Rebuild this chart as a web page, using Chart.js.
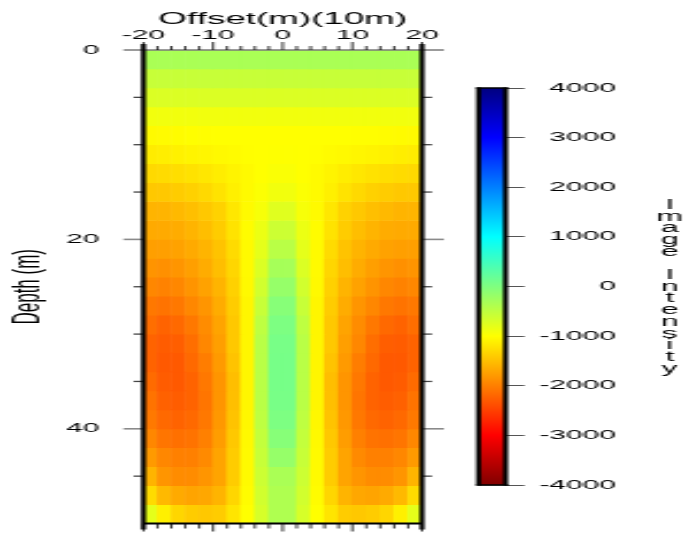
<!DOCTYPE html>
<html>
<head>
<meta charset="utf-8">
<script src="https://cdn.jsdelivr.net/npm/chart.js@4.4.1/dist/chart.umd.min.js"></script>
<style>
html,body{margin:0;padding:0;background:#fff;overflow:hidden;width:689px;height:535px;position:relative;}
canvas{position:absolute;top:0;transform-origin:0 0;}
#main{left:0;}
#cbar{left:440px;}
</style>
</head>
<body>
<canvas id="main" width="300" height="535"></canvas>
<canvas id="cbar" width="109" height="535"></canvas>
<script>
// ---------------- data ----------------
const X_TITLE = 'Offset(m)(10m)';
const Y_TITLE = 'Depth (m)';
const CBAR_TITLE = 'Image Intensity';
const X_TICKS = [-20, -10, 0, 10, 20];
const Y_TICKS = [0, 20, 40];
const CBAR_TICKS = [-4000, -3000, -2000, -1000, 0, 1000, 2000, 3000, 4000];
const CBAR_MIN = -4000, CBAR_MAX = 4000;
const CBAR_STOPS = [4000, 3000, 1000, -1000, -3000, -4000];
const OFFSETS = [-19,-17,-15,-13,-11,-9,-7,-5,-3,-1,1,3,5,7,9,11,13,15,17,19];
const DEPTH_EDGES = [0,2,4,6,8,10,12,14,16,18,20,22,24,26,28,30,32,34,36,38,40,42,44,46,48,50];

const D01 = [-330,-330,-330,-330,-330,-330,-330,-330,-330,-330,-330,-330,-330,-330,-330,-330,-330,-330,-330,-330];
const D03 = [-560,-560,-560,-560,-560,-560,-560,-560,-560,-560,-560,-560,-560,-560,-560,-560,-560,-560,-560,-560];
const D05 = [-720,-720,-720,-720,-720,-720,-720,-720,-720,-720,-720,-720,-720,-720,-720,-720,-720,-720,-720,-720];
const D07 = [-900,-900,-900,-900,-900,-900,-900,-900,-900,-900,-900,-900,-900,-900,-900,-900,-900,-900,-900,-900];
const D09 = [-1040,-1030,-1020,-1010,-1005,-1000,-1000,-1000,-1000,-1000,-1000,-1000,-1000,-1000,-1000,-1005,-1010,-1020,-1030,-1040];
const D11 = [-1150,-1130,-1110,-1090,-1070,-1050,-1030,-1010,-1000,-990,-990,-1000,-1010,-1030,-1050,-1070,-1090,-1110,-1130,-1150];
const D13 = [-1300,-1280,-1260,-1230,-1190,-1140,-1090,-1040,-1000,-960,-960,-1000,-1040,-1090,-1140,-1190,-1230,-1260,-1280,-1300];
const D15 = [-1430,-1430,-1400,-1360,-1300,-1220,-1120,-1040,-980,-900,-900,-980,-1040,-1120,-1220,-1300,-1360,-1400,-1430,-1430];
const D17 = [-1590,-1590,-1550,-1500,-1430,-1350,-1190,-1040,-940,-760,-760,-940,-1040,-1190,-1350,-1430,-1500,-1550,-1590,-1590];
const D19 = [-1670,-1670,-1650,-1590,-1510,-1400,-1220,-1020,-850,-600,-600,-850,-1020,-1220,-1400,-1510,-1590,-1650,-1670,-1670];
const D21 = [-1750,-1750,-1730,-1670,-1590,-1470,-1280,-1040,-800,-450,-450,-800,-1040,-1280,-1470,-1590,-1670,-1730,-1750,-1750];
const D23 = [-1840,-1870,-1830,-1750,-1650,-1510,-1320,-1040,-720,-300,-300,-720,-1040,-1320,-1510,-1650,-1750,-1830,-1870,-1840];
const D25 = [-1940,-1980,-1940,-1840,-1730,-1590,-1360,-1050,-640,-180,-180,-640,-1050,-1360,-1590,-1730,-1840,-1940,-1980,-1940];
const D27 = [-2060,-2100,-2060,-1940,-1830,-1650,-1400,-1070,-560,-60,-60,-560,-1070,-1400,-1650,-1830,-1940,-2060,-2100,-2060];
const D29 = [-2140,-2220,-2180,-2060,-1900,-1710,-1430,-1070,-490,20,20,-490,-1070,-1430,-1710,-1900,-2060,-2180,-2220,-2140];
const D31 = [-2220,-2280,-2260,-2140,-1940,-1750,-1430,-1070,-450,60,60,-450,-1070,-1430,-1750,-1940,-2140,-2260,-2280,-2220];
const D33 = [-2220,-2300,-2300,-2180,-2020,-1790,-1470,-1070,-450,70,70,-450,-1070,-1470,-1790,-2020,-2180,-2300,-2300,-2220];
const D35 = [-2160,-2280,-2300,-2220,-2060,-1830,-1510,-1070,-450,70,70,-450,-1070,-1510,-1830,-2060,-2220,-2300,-2280,-2160];
const D37 = [-2100,-2240,-2270,-2220,-2080,-1830,-1500,-1070,-450,60,60,-450,-1070,-1500,-1830,-2080,-2220,-2270,-2240,-2100];
const D39 = [-2050,-2180,-2220,-2180,-2060,-1810,-1470,-1060,-490,20,20,-490,-1060,-1470,-1810,-2060,-2180,-2220,-2180,-2050];
const D41 = [-1940,-2080,-2120,-2100,-2000,-1770,-1430,-1050,-530,-60,-60,-530,-1050,-1430,-1770,-2000,-2100,-2120,-2080,-1940];
const D43 = [-1790,-1940,-2000,-2000,-1920,-1710,-1400,-1040,-560,-180,-180,-560,-1040,-1400,-1710,-1920,-2000,-2000,-1940,-1790];
const D45 = [-1590,-1830,-1900,-1900,-1830,-1710,-1400,-1040,-600,-330,-330,-600,-1040,-1400,-1710,-1830,-1900,-1900,-1830,-1590];
const D47 = [-1280,-1550,-1670,-1710,-1690,-1590,-1320,-1020,-640,-370,-370,-640,-1020,-1320,-1590,-1690,-1710,-1670,-1550,-1280];
const D49 = [-800,-1120,-1320,-1400,-1430,-1400,-1200,-1000,-680,-370,-370,-680,-1000,-1200,-1400,-1430,-1400,-1320,-1120,-800];
const INTENSITY = [D01,D03,D05,D07,D09,D11,D13,D15,D17,D19,D21,D23,D25,D27,D29,D31,D33,D35,D37,D39,D41,D43,D45,D47,D49];

// ---------------- styling / layout ----------------
const S = 2.3;                       // horizontal stretch of the canvases
const px = v => v / S;               // reference px -> canvas units (horizontal)
const FONT = '"Liberation Sans", Arial, Helvetica, sans-serif';
Chart.defaults.font.family = FONT;
Chart.defaults.color = '#000';

function jet(v) {
  const t = (CBAR_MAX - v) / (CBAR_MAX - CBAR_MIN);
  const c = k => Math.round(255 * Math.max(0, Math.min(1, 1.5 - Math.abs(4 * t - k))));
  return `rgb(${c(3)},${c(2)},${c(1)})`;
}

function line(ctx, x1, y1, x2, y2, color, w) {
  ctx.beginPath();
  ctx.strokeStyle = color;
  ctx.lineWidth = w;
  ctx.moveTo(x1, y1);
  ctx.lineTo(x2, y2);
  ctx.stroke();
}

// ---------------- main image ----------------
const mainCanvas = document.getElementById('main');
mainCanvas.style.transform = `scaleX(${S})`;
const AREA = { left: px(143.5), right: px(422), top: 50, bottom: 523.5 };

const datasets = INTENSITY.map((row, r) => ({
  data: OFFSETS.map(x => ({ x: x, y: [DEPTH_EDGES[r], DEPTH_EDGES[r + 1]] })),
  backgroundColor: row.map(jet),
  borderWidth: 0,
  grouped: false,
  barPercentage: 1,
  categoryPercentage: 1
}));

const framePlugin = {
  id: 'frame',
  afterDraw(chart) {
    const { ctx, chartArea: a, scales: { x, y } } = chart;
    ctx.save();
    line(ctx, a.left - px(20), a.top, a.right + px(22), a.top, '#7a7a7a', 1.6);
    for (let d = 5; d < 50; d += 5) {
      const py = y.getPixelForValue(d);
      if (d % 20 === 0) {
        line(ctx, a.left - px(20), py, a.left, py, '#8a8a8a', 1.6);
        line(ctx, a.right, py, a.right + px(22), py, '#8a8a8a', 1.6);
      } else {
        line(ctx, a.left - px(10), py, a.left, py, '#444', 1.3);
        line(ctx, a.right, py, a.right + px(10), py, '#444', 1.3);
      }
    }
    for (let v = -20; v <= 20; v += 2) {
      const xp = x.getPixelForValue(v);
      const major = v % 10 === 0;
      line(ctx, xp, a.top - (major ? 8 : 4), xp, a.top, '#000', px(1.8));
      line(ctx, xp, a.bottom, xp, a.bottom + (major ? 8 : 5), '#000', px(1.8));
    }
    line(ctx, a.left, a.bottom, a.right, a.bottom, '#000', 1.8);
    line(ctx, a.left, a.top - 6, a.left, a.bottom + 6, '#000', px(5));
    line(ctx, a.right, a.top - 6, a.right, a.bottom + 6, '#000', px(5));
    ctx.restore();
  }
};

new Chart(mainCanvas, {
  type: 'bar',
  data: { datasets: datasets },
  options: {
    responsive: false,
    animation: false,
    devicePixelRatio: 1,
    events: [],
    layout: { padding: { left: 0, top: 0, right: 300 - AREA.right, bottom: 535 - AREA.bottom } },
    plugins: { legend: { display: false }, tooltip: { enabled: false } },
    scales: {
      x: {
        type: 'linear', position: 'top', min: -20, max: 20, offset: false,
        grid: { display: false, drawTicks: true, tickLength: 6.8, offset: false },
        border: { display: false },
        afterBuildTicks: s => { s.ticks = X_TICKS.map(v => ({ value: v })); },
        afterFit: s => { s.height = AREA.top; },
        ticks: { font: { size: 13 }, color: '#000', padding: 0, maxRotation: 0, autoSkip: false, callback: v => String(v) },
        title: { display: true, text: X_TITLE, font: { size: 16 }, color: '#000', padding: { top: 9.5, bottom: 0 } }
      },
      y: {
        type: 'linear', position: 'left', reverse: true, min: 0, max: 50,
        grid: { display: false, drawTicks: true, tickLength: px(144 - 100) },
        border: { display: false },
        afterBuildTicks: s => { s.ticks = Y_TICKS.map(v => ({ value: v })); },
        afterFit: s => { s.width = AREA.left; },
        ticks: { font: { size: 13 }, color: '#000', padding: 0, autoSkip: false, callback: v => String(v) },
        title: { display: true, text: Y_TITLE, font: { size: 17 }, color: '#000', padding: { top: 2, bottom: 0 } }
      }
    }
  },
  plugins: [framePlugin]
});

// ---------------- colour bar ----------------
const cbCanvas = document.getElementById('cbar');
cbCanvas.style.transform = `scaleX(${S})`;
const CB = { left: px(478.5 - 440), right: px(505.5 - 440), top: 88, bottom: 485, labelRight: px(616 - 440), width: 109 };
const TITLE_CHARS = CBAR_TITLE.split('');
const LETTER_TOP = 205, LETTER_STEP = 11.7;
const ytMin = -(LETTER_TOP - CB.top) / LETTER_STEP;
const ytMax = ytMin + (CB.bottom - CB.top) / LETTER_STEP;

const cbFrame = {
  id: 'cbFrame',
  afterDraw(chart) {
    const { ctx, chartArea: a } = chart;
    ctx.save();
    line(ctx, a.left - px(2.5), a.top, a.right + px(2.5), a.top, '#000', 1.5);
    line(ctx, a.left - px(2.5), a.bottom, a.right + px(2.5), a.bottom, '#000', 1.5);
    line(ctx, a.left, a.top - 0.5, a.left, a.bottom + 0.5, '#000', px(5));
    line(ctx, a.right, a.top - 0.5, a.right, a.bottom + 0.5, '#000', px(5));
    ctx.restore();
  }
};

new Chart(cbCanvas, {
  type: 'bar',
  data: {
    labels: [''],
    datasets: [{
      data: [[CBAR_MIN, CBAR_MAX]],
      backgroundColor: (c) => {
        const chart = c.chart;
        if (!chart.chartArea) return '#888';
        const ys = chart.scales.y;
        const g = chart.ctx.createLinearGradient(0, ys.getPixelForValue(CBAR_MAX), 0, ys.getPixelForValue(CBAR_MIN));
        CBAR_STOPS.forEach(v => g.addColorStop((CBAR_MAX - v) / (CBAR_MAX - CBAR_MIN), jet(v)));
        return g;
      },
      borderWidth: 0,
      barPercentage: 1,
      categoryPercentage: 1
    }]
  },
  options: {
    responsive: false,
    animation: false,
    devicePixelRatio: 1,
    events: [],
    layout: { padding: { left: CB.left, top: CB.top, bottom: 535 - CB.bottom, right: 0 } },
    plugins: { legend: { display: false }, tooltip: { enabled: false } },
    scales: {
      x: { display: false },
      y: {
        position: 'right', weight: 0, min: CBAR_MIN, max: CBAR_MAX, z: 1,
        grid: { color: 'rgba(0,0,0,0.45)', lineWidth: 1, drawTicks: true, tickLength: px(19), tickColor: '#555', tickWidth: 1 },
        border: { display: false },
        afterBuildTicks: s => { s.ticks = CBAR_TICKS.map(v => ({ value: v })); },
        afterFit: s => { s.width = CB.labelRight - CB.right; },
        ticks: { font: { size: 13 }, color: '#000', crossAlign: 'far', padding: 4, autoSkip: false, callback: v => String(v) }
      },
      yt: {
        type: 'linear', position: 'right', weight: 1, reverse: true, min: ytMin, max: ytMax,
        grid: { display: false, drawTicks: false },
        border: { display: false },
        afterBuildTicks: s => { s.ticks = TITLE_CHARS.map((ch, i) => ({ value: i })).filter(t => TITLE_CHARS[t.value] !== ' '); },
        afterFit: s => { s.width = CB.width - CB.labelRight; },
        ticks: { font: { size: 14 }, color: '#000', crossAlign: 'center', padding: 17.5, autoSkip: false, callback: v => TITLE_CHARS[v] }
      }
    }
  },
  plugins: [cbFrame]
});
</script>
</body>
</html>
